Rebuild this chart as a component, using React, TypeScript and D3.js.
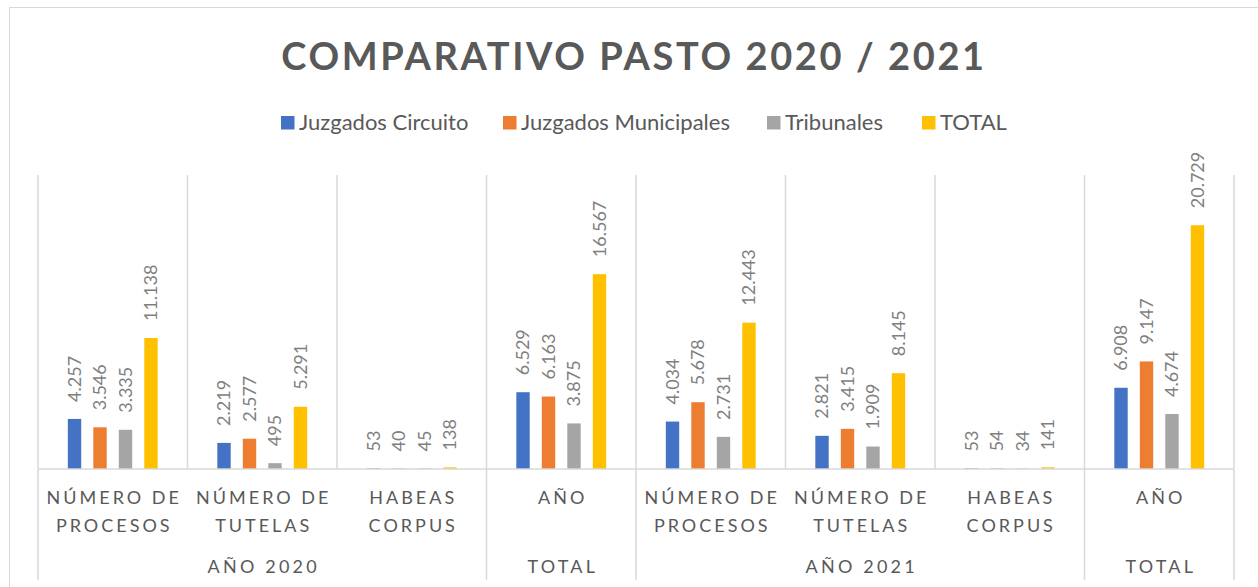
import React from "react";
import * as d3 from "d3";

const categories = [
  "NÚMERO DE\nPROCESOS",
  "NÚMERO DE\nTUTELAS",
  "HABEAS\nCORPUS",
  "AÑO",
  "NÚMERO DE\nPROCESOS",
  "NÚMERO DE\nTUTELAS",
  "HABEAS\nCORPUS",
  "AÑO",
];
const groupLabels = ["AÑO 2020", "TOTAL", "AÑO 2021", "TOTAL"];
const groupSizes = [3, 1, 3, 1];

const seriesNames = ["Juzgados Circuito", "Juzgados Municipales", "Tribunales", "TOTAL"];
const seriesColors = ["#4472C4", "#ED7D31", "#A5A5A5", "#FFC000"];
const juzgadosCircuito = [4257, 2219, 53, 6529, 4034, 2821, 53, 6908];
const juzgadosMunicipales = [3546, 2577, 40, 6163, 5678, 3415, 54, 9147];
const tribunales = [3335, 495, 45, 3875, 2731, 1909, 34, 4674];
const totalSeries = [11138, 5291, 138, 16567, 12443, 8145, 141, 20729];
const seriesValues = [juzgadosCircuito, juzgadosMunicipales, tribunales, totalSeries];
const yMax = 25000;

const title = "COMPARATIVO PASTO 2020 / 2021";

const W = 1258;
const H = 587;
const plot = { left: 38, right: 1234, top: 175, bottom: 469 };

const locale = d3.formatLocale({ decimal: ",", thousands: ".", grouping: [3], currency: ["$", ""] });
const fmt = locale.format(",d");

const FONT = "Lato, 'Open Sans', sans-serif";
const GRID = "#D9D9D9";
const TEXT = "#595959";
const LABEL = "#7F7F7F";

export default function App() {
  const idx = categories.map((_, i) => i);
  const x = d3.scaleBand<number>().domain(idx).range([plot.left, plot.right]).padding(0);
  const inner = d3
    .scaleBand<number>()
    .domain(seriesNames.map((_, i) => i))
    .range([0, x.bandwidth()])
    .paddingInner(0.475)
    .paddingOuter(1.17);
  const y = d3.scaleLinear().domain([0, yMax]).range([plot.bottom, plot.top]);

  const boundaries = d3.range(categories.length + 1).map((i) => plot.left + i * x.step());
  const groupStarts: number[] = [];
  let acc = 0;
  groupSizes.forEach((s) => {
    groupStarts.push(acc);
    acc += s;
  });
  const groupBoundaries = [...groupStarts.map((s) => boundaries[s]), boundaries[categories.length]];

  const legendX = [281, 503, 767, 922];

  return (
    <svg
      width={W}
      height={H}
      style={{ position: "absolute", left: 0, top: 0, background: "#fff" }}
      fontFamily={FONT}
    >
      <rect x={9.5} y={7.5} width={W + 20} height={H + 20} fill="#fff" stroke={GRID} strokeWidth={1} />

      <text
        x={634}
        y={70}
        textAnchor="middle"
        fontSize={38}
        fontWeight={700}
        fill={TEXT}
        letterSpacing={2.6}
      >
        {title}
      </text>

      {seriesNames.map((n, i) => (
        <g key={n}>
          <rect x={legendX[i]} y={116} width={13.5} height={13.5} fill={seriesColors[i]} />
          <text x={legendX[i] + 18} y={130} fontSize={22} fill={TEXT}>
            {n}
          </text>
        </g>
      ))}

      {boundaries.map((b, i) => (
        <line key={"g" + i} x1={b} x2={b} y1={plot.top} y2={plot.bottom} stroke={GRID} strokeWidth={1.5} />
      ))}
      {groupBoundaries.map((b, i) => (
        <line key={"gb" + i} x1={b} x2={b} y1={plot.bottom} y2={580} stroke={GRID} strokeWidth={1.5} />
      ))}

      {seriesValues.map((vals, s) =>
        vals.map((v, c) => {
          const bx = (x(c) as number) + (inner(s) as number);
          const by = y(v);
          return (
            <rect
              key={`b${s}-${c}`}
              x={bx}
              y={by}
              width={inner.bandwidth()}
              height={plot.bottom - by}
              fill={seriesColors[s]}
            />
          );
        })
      )}

      <line x1={plot.left} x2={plot.right} y1={plot.bottom} y2={plot.bottom} stroke={GRID} strokeWidth={1.5} />

      {seriesValues.map((vals, s) =>
        vals.map((v, c) => {
          const cx = (x(c) as number) + (inner(s) as number) + inner.bandwidth() / 2;
          const ty = y(v) - 17;
          return (
            <text
              key={`l${s}-${c}`}
              transform={`translate(${cx},${ty}) rotate(-90)`}
              dy="0.36em"
              fontSize={18}
              fill={LABEL}
            >
              {fmt(v)}
            </text>
          );
        })
      )}

      {categories.map((c, i) => {
        const cx = (x(i) as number) + x.bandwidth() / 2;
        return c.split("\n").map((line, li) => (
          <text
            key={`c${i}-${li}`}
            x={cx + 1.5}
            y={504 + li * 27.5}
            textAnchor="middle"
            fontSize={18}
            fill={TEXT}
            letterSpacing={3.0}
          >
            {line}
          </text>
        ));
      })}

      {groupLabels.map((g, i) => {
        const cx = (groupBoundaries[i] + groupBoundaries[i + 1]) / 2;
        return (
          <text
            key={"gl" + i}
            x={cx + 1.5}
            y={572.5}
            textAnchor="middle"
            fontSize={18}
            fill={TEXT}
            letterSpacing={3.2}
          >
            {g}
          </text>
        );
      })}
    </svg>
  );
}
